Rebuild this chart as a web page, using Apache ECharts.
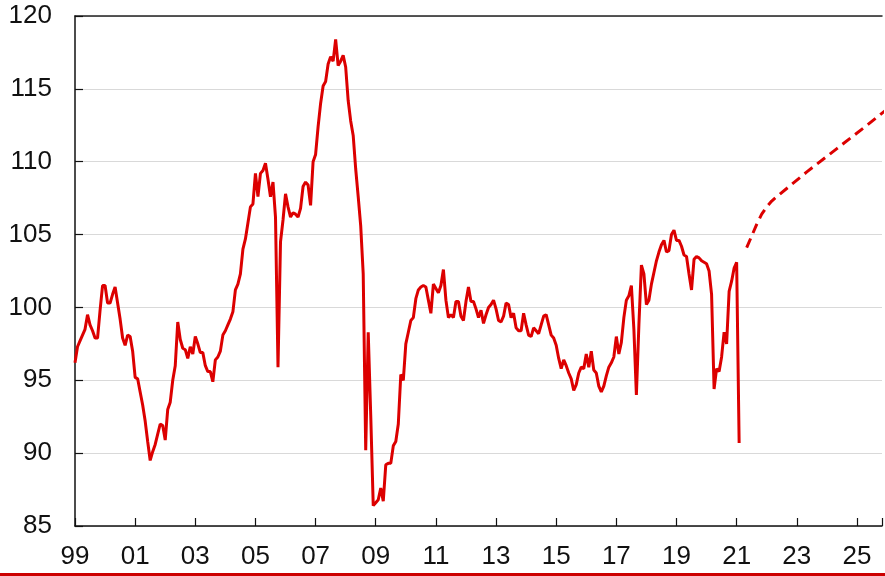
<!DOCTYPE html>
<html>
<head>
<meta charset="utf-8">
<script src="https://cdn.jsdelivr.net/npm/echarts@6/dist/echarts.min.js"></script>
<style>
  html, body { margin: 0; padding: 0; background: #ffffff; }
  #chart { width: 885px; height: 576px; }
</style>
</head>
<body>
<div id="chart"></div>
<script>
// monthly index, Jan 1999 .. Feb 2021 (month 0 = Jan 99)
var indexValues = [
  96.2, 97.3, 97.7, 98.1, 98.5, 99.5, 98.8, 98.4, 97.9, 97.9, 99.8, 101.5,
  101.5, 100.3, 100.3, 100.9, 101.4, 100.3, 99.2, 97.9, 97.4, 98.1, 98.0, 97.0,
  95.2, 95.1, 94.2, 93.3, 92.2, 90.8, 89.5, 90.1, 90.6, 91.3, 92.0, 91.9,
  90.9, 93.0, 93.5, 95.0, 96.0, 99.0, 97.8, 97.2, 97.1, 96.5, 97.3, 96.8,
  98.0, 97.5, 96.9, 96.9, 96.0, 95.6, 95.6, 94.9, 96.4, 96.6, 97.0, 98.1,
  98.4, 98.8, 99.2, 99.7, 101.2, 101.6, 102.3, 104.0, 104.7, 105.8, 106.9, 107.1,
  109.2, 107.6, 109.2, 109.4, 109.9, 108.8, 107.6, 108.6, 106.2, 95.9, 104.5, 106.0,
  107.8, 106.9, 106.2, 106.5, 106.4, 106.2, 106.8, 108.3, 108.6, 108.4, 107.0, 110.0,
  110.5, 112.4, 114.0, 115.2, 115.5, 116.7, 117.2, 116.9, 118.4, 116.6, 116.9, 117.3,
  116.5, 114.2, 112.8, 111.8, 109.5, 107.6, 105.6, 102.3, 90.2, 98.3, 92.6, 86.4,
  86.6, 86.8, 87.6, 86.7, 89.2, 89.3, 89.3, 90.5, 90.8, 92.0, 95.4, 95.0,
  97.5, 98.3, 99.1, 99.3, 100.6, 101.2, 101.4, 101.5, 101.4, 100.5, 99.6, 101.6,
  101.3, 101.0, 101.5, 102.6, 100.5, 99.3, 99.5, 99.3, 100.4, 100.4, 99.4, 99.1,
  100.4, 101.4, 100.4, 100.4, 99.9, 99.3, 99.8, 98.9, 99.5, 100.0, 100.2, 100.5,
  99.9, 99.1, 99.0, 99.4, 100.3, 100.2, 99.3, 99.6, 98.6, 98.4, 98.4, 99.6,
  98.8, 98.1, 98.0, 98.6, 98.4, 98.2, 98.8, 99.4, 99.5, 98.8, 98.1, 97.9,
  97.4, 96.5, 95.8, 96.4, 96.0, 95.5, 95.1, 94.3, 94.7, 95.5, 95.9, 95.8,
  96.8, 95.9, 97.0, 95.7, 95.5, 94.6, 94.2, 94.6, 95.3, 95.9, 96.2, 96.6,
  98.0, 96.8, 97.6, 99.3, 100.5, 100.8, 101.5, 98.5, 94.0, 98.8, 102.9, 102.3,
  100.2, 100.5, 101.6, 102.4, 103.2, 103.8, 104.3, 104.6, 103.8, 103.9, 105.0, 105.3,
  104.6, 104.6, 104.2, 103.6, 103.5, 102.3, 101.2, 103.3, 103.5, 103.4, 103.2, 103.1,
  103.0, 102.5, 100.9, 94.4, 95.8, 95.6, 96.6, 98.3, 97.5, 101.1, 101.8, 102.7,
  103.1, 90.7
];

// forecast path (dashed), months since Jan 99
var forecastMonths = [268, 270, 272, 274, 276, 278, 280, 292, 304, 316, 324];
var forecastValues = [104.1, 104.9, 105.7, 106.4, 106.9, 107.3, 107.6, 109.3, 110.9, 112.5, 113.6];

var yearLabels = ['99', '01', '03', '05', '07', '09', '11', '13', '15', '17', '19', '21', '23', '25'];

var lineColor = '#dc0000';

var solidData = indexValues.map(function (v, i) { return [i, v]; });
var dashData = forecastMonths.map(function (m, i) { return [m, forecastValues[i]]; });

var chart = echarts.init(document.getElementById('chart'));
chart.setOption({
  animation: false,
  backgroundColor: '#ffffff',
  grid: { left: 75, top: 16, right: 0, bottom: 50 },
  xAxis: [
    {
      type: 'value',
      min: 0,
      max: 322,
      interval: 24,
      axisLine: { show: true, lineStyle: { color: '#111', width: 1.5 } },
      axisTick: { show: true, inside: true, length: 8, lineStyle: { color: '#111', width: 1.2 } },
      splitLine: { show: false },
      axisLabel: {
        margin: 18,
        fontSize: 26,
        fontFamily: 'Liberation Sans, Arial, sans-serif',
        color: '#111',
        formatter: function (v) {
          if (v % 24 !== 0) return '';
          return yearLabels[v / 24] || '';
        }
      }
    },
    {
      type: 'value',
      position: 'top',
      min: 0,
      max: 322,
      axisLine: { show: true, lineStyle: { color: '#222', width: 1.5 } },
      axisTick: { show: false },
      axisLabel: { show: false },
      splitLine: { show: false }
    }
  ],
  yAxis: {
    type: 'value',
    min: 85,
    max: 120,
    interval: 5,
    axisLine: { show: true, lineStyle: { color: '#111', width: 1.5 } },
    axisTick: { show: true, inside: true, length: 8, lineStyle: { color: '#111', width: 1.2 } },
    splitLine: { show: true, lineStyle: { color: '#d9d9d9', width: 1.2 } },
    axisLabel: {
      margin: 23,
      fontSize: 26,
      fontFamily: 'Liberation Sans, Arial, sans-serif',
      color: '#111'
    }
  },
  series: [
    {
      name: 'index',
      type: 'line',
      data: solidData,
      symbol: 'none',
      lineStyle: { color: lineColor, width: 3 },
      z: 3
    },
    {
      name: 'forecast',
      type: 'line',
      data: dashData,
      symbol: 'none',
      clip: true,
      lineStyle: { color: lineColor, width: 3, type: [10, 6] },
      z: 3
    }
  ],
  graphic: [
    {
      type: 'rect',
      left: 0,
      bottom: 0,
      shape: { width: 885, height: 3 },
      style: { fill: '#cc0000' }
    }
  ]
});
</script>
</body>
</html>
